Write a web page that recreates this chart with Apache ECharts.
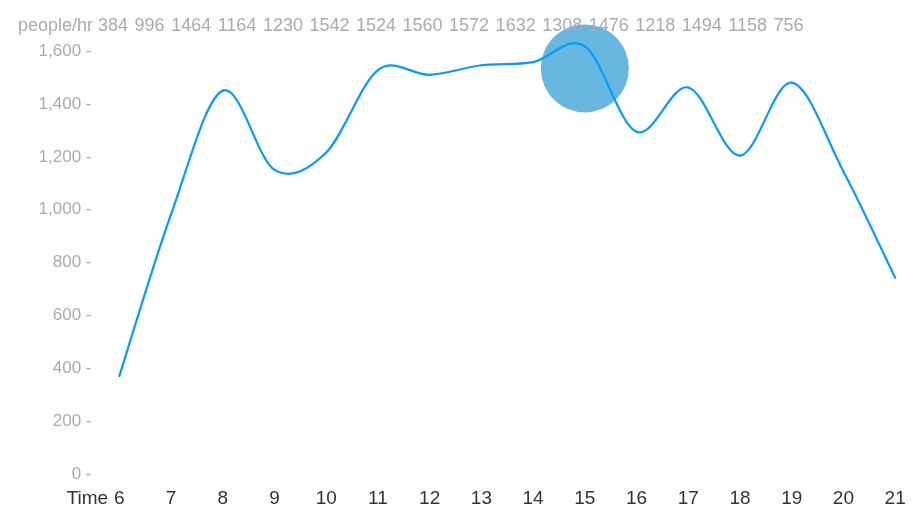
<!DOCTYPE html>
<html>
<head>
<meta charset="utf-8">
<script src="https://cdn.jsdelivr.net/npm/echarts@6/dist/echarts.min.js"></script>
<style>
html,body{margin:0;padding:0;background:#fff;}
#chart{width:923px;height:509px;}
</style>
</head>
<body>
<div id="chart"></div>
<script>
var hours = ['6','7','8','9','10','11','12','13','14','15','16','17','18','19','20','21'];
var peoplePerHour = [384, 996, 1464, 1164, 1230, 1542, 1524, 1560, 1572, 1632, 1308, 1476, 1218, 1494, 1158, 756];
var yTicks = [0, 200, 400, 600, 800, 1000, 1200, 1400, 1600];
var highlightHour = ['15'];
var highlightValue = [1548];
var unitName = 'people/hr';
var xName = 'Time';

var FONT = 'Liberation Sans, Arial, Helvetica, sans-serif';
var GREY = '#aaaab2';
var LINE = '#0a9bf8';

// Catmull-Rom style smooth line: each item draws the segment to the next one,
// positions obtained from the chart's own axes through api.coord.
function renderSegment(params, api) {
  var i = params.dataIndex;
  var n = peoplePerHour.length;
  if (i >= n - 1) return null;
  function pt(k) {
    k = Math.max(0, Math.min(n - 1, k));
    return api.coord([hours[k], peoplePerHour[k]]);
  }
  var p0 = pt(i - 1), p1 = pt(i), p2 = pt(i + 1), p3 = pt(i + 2);
  return {
    type: 'bezierCurve',
    shape: {
      x1: p1[0], y1: p1[1],
      x2: p2[0], y2: p2[1],
      cpx1: p1[0] + (p2[0] - p0[0]) / 6, cpy1: p1[1] + (p2[1] - p0[1]) / 6,
      cpx2: p2[0] - (p3[0] - p1[0]) / 6, cpy2: p2[1] - (p3[1] - p1[1]) / 6
    },
    style: {stroke: LINE, lineWidth: 2.2, fill: null, lineCap: 'round'},
    silent: true
  };
}

var chart = echarts.init(document.getElementById('chart'), null, {renderer: 'canvas'});
chart.setOption({
  animation: false,
  backgroundColor: '#fff',
  title: {
    text: unitName + ' ' + peoplePerHour.join(' \u200A'),
    left: 18,
    top: 17,
    padding: 0,
    textStyle: {fontFamily: FONT, fontSize: 18, fontWeight: 'normal', color: GREY}
  },
  grid: {left: 93.5, right: 2, top: 54.7, bottom: 31.6},
  xAxis: {
    type: 'category',
    data: hours,
    boundaryGap: true,
    name: xName,
    nameLocation: 'start',
    nameGap: 24,
    nameTextStyle: {fontFamily: FONT, fontSize: 19, color: '#333', align: 'left', verticalAlign: 'top', padding: [12, 0, 0, 0]},
    axisLine: {show: false},
    axisTick: {show: false},
    axisLabel: {fontFamily: FONT, fontSize: 19, color: '#333', margin: 12}
  },
  yAxis: {
    type: 'value',
    min: yTicks[0],
    max: yTicks[yTicks.length - 1],
    interval: yTicks[1] - yTicks[0],
    axisLine: {show: false},
    axisTick: {show: false},
    splitLine: {show: false},
    axisLabel: {
      fontFamily: FONT, fontSize: 17, color: GREY, margin: 2,
      verticalAlign: 'bottom', lineHeight: 7,
      formatter: function (v) { return echarts.format.addCommas(v) + ' -'; }
    }
  },
  series: [
    {
      type: 'scatter',
      data: highlightHour.map(function (h, i) { return [h, highlightValue[i]]; }),
      symbolSize: 88,
      itemStyle: {color: '#67b7e1', opacity: 1},
      emphasis: {disabled: true},
      silent: true,
      z: 2
    },
    {
      type: 'custom',
      data: hours.map(function (h, i) { return [h, peoplePerHour[i]]; }),
      encode: {x: 0, y: 1},
      renderItem: renderSegment,
      clip: false,
      silent: true,
      z: 3
    }
  ]
});
</script>
</body>
</html>
